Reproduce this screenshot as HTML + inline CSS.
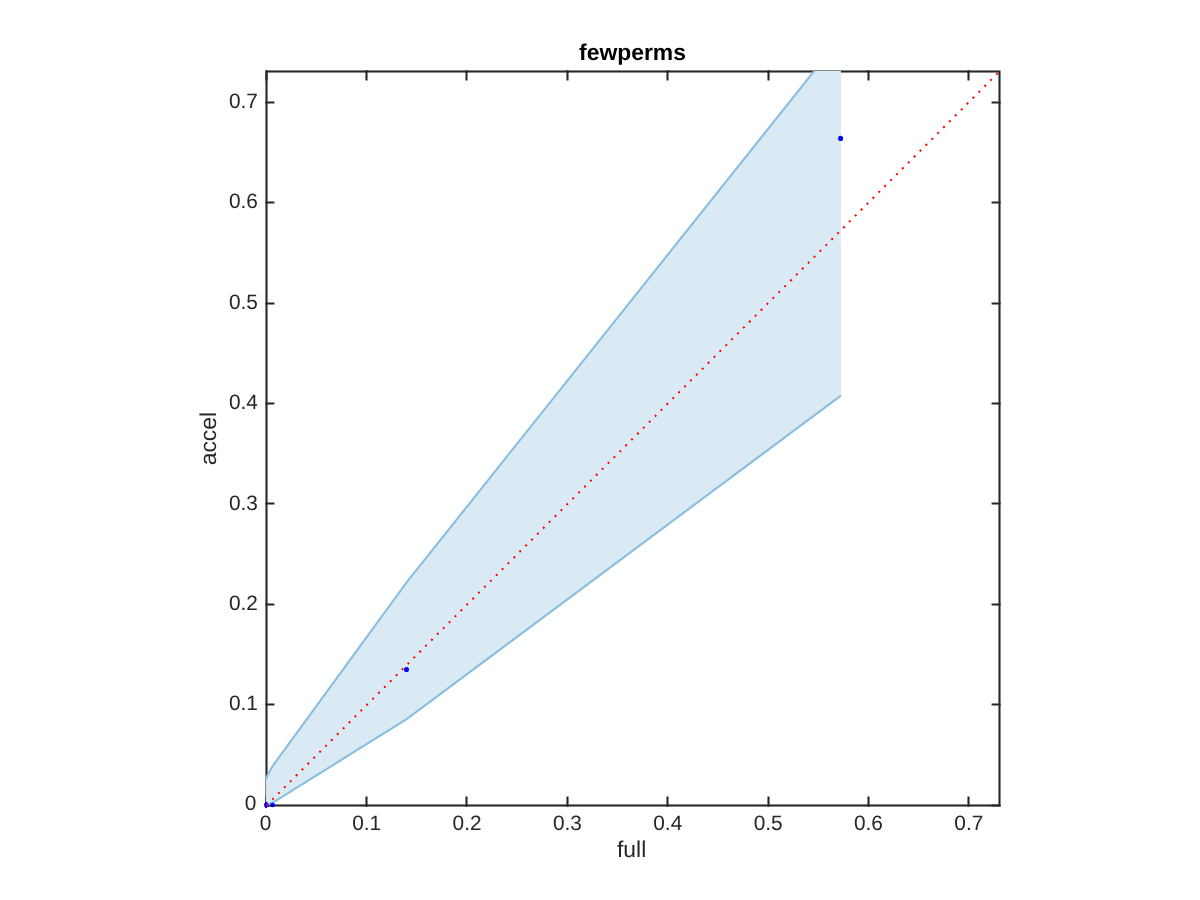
<!DOCTYPE html>
<html lang="en"><head><meta charset="utf-8"><title>fewperms</title>
<style>html,body{margin:0;padding:0;background:#fff;}body{width:1200px;height:900px;overflow:hidden;}svg{display:block;}text{font-family:"Liberation Sans",sans-serif;text-rendering:geometricPrecision;}</style></head><body>
<svg width="1200" height="900" viewBox="0 0 1200 900">
<rect width="1200" height="900" fill="#ffffff"/>
<defs><clipPath id="ax"><rect x="266.05" y="71.10" width="733.45" height="734.40"/></clipPath>
<clipPath id="axl"><rect x="265.05" y="71.10" width="734.45" height="735.00"/></clipPath></defs>
<g stroke="#262626" stroke-width="2.08" fill="none" stroke-linecap="butt">
<rect x="266.5" y="71.5" width="733.00" height="734.00"/>
<path d="M266.50 806.65V796.55M266.50 70.35V80.45M265.35 805.50H274.40M1000.65 805.50H991.60"/>
<path d="M366.50 806.65V796.55M366.50 70.35V80.45M265.35 704.50H274.40M1000.65 704.50H991.60"/>
<path d="M466.50 806.65V796.55M466.50 70.35V80.45M265.35 604.50H274.40M1000.65 604.50H991.60"/>
<path d="M567.50 806.65V796.55M567.50 70.35V80.45M265.35 503.50H274.40M1000.65 503.50H991.60"/>
<path d="M667.50 806.65V796.55M667.50 70.35V80.45M265.35 403.50H274.40M1000.65 403.50H991.60"/>
<path d="M768.50 806.65V796.55M768.50 70.35V80.45M265.35 303.50H274.40M1000.65 303.50H991.60"/>
<path d="M868.50 806.65V796.55M868.50 70.35V80.45M265.35 202.50H274.40M1000.65 202.50H991.60"/>
<path d="M968.50 806.65V796.55M968.50 70.35V80.45M265.35 102.50H274.40M1000.65 102.50H991.60"/>
</g>
<g clip-path="url(#ax)">
<polygon fill="#daeaf5" points="265.0,779.2 266.5,778.9 266.5,777.0 272.8,765.8 406.6,582.4 840.9,37.5 840.9,395.6 406.6,719.1 272.5,802.8 266.3,805.3 265.0,805.4"/>
</g><g clip-path="url(#axl)" fill="none" stroke="#89bee1" stroke-width="2.1" stroke-linejoin="miter">
<polyline points="266.5,778.9 266.5,777.0 272.8,765.8 406.6,582.4 840.9,37.5"/>
<polyline points="265.0,805.4 266.3,805.3 272.5,802.8 406.6,719.1 840.9,395.6"/>
</g>
<rect x="265.4" y="776.0" width="2.5" height="2.7" fill="#89bee1"/>
<rect x="265.05" y="801.9" width="2.0" height="6.2" fill="#0000ff"/>
<circle cx="266.3" cy="804.95" r="2.35" fill="#0000ff"/>
<circle cx="272.6" cy="805.0" r="2.35" fill="#0000ff"/>
<circle cx="406.5" cy="669.5" r="2.55" fill="#0000ff"/>
<circle cx="840.6" cy="138.4" r="2.55" fill="#0000ff"/>
<line x1="266.4" y1="805.45" x2="999.5" y2="71.45" stroke="#ff0000" stroke-width="2" stroke-dasharray="2 6.329"/>
<g fill="#262626" font-size="20.83px">
<text x="265.49" y="830.2" text-anchor="middle">0</text>
<text x="366.68" y="830.2" text-anchor="middle">0.1</text>
<text x="467.04" y="830.2" text-anchor="middle">0.2</text>
<text x="567.40" y="830.2" text-anchor="middle">0.3</text>
<text x="667.76" y="830.2" text-anchor="middle">0.4</text>
<text x="768.12" y="830.2" text-anchor="middle">0.5</text>
<text x="868.48" y="830.2" text-anchor="middle">0.6</text>
<text x="968.84" y="830.2" text-anchor="middle">0.7</text>
<text x="256.45" y="809.95" text-anchor="end">0</text>
<text x="257.85" y="710.29" text-anchor="end">0.1</text>
<text x="257.85" y="609.93" text-anchor="end">0.2</text>
<text x="257.85" y="509.57" text-anchor="end">0.3</text>
<text x="257.85" y="409.21" text-anchor="end">0.4</text>
<text x="257.85" y="308.85" text-anchor="end">0.5</text>
<text x="257.85" y="208.49" text-anchor="end">0.6</text>
<text x="257.85" y="108.13" text-anchor="end">0.7</text>
</g>
<text x="631.6" y="856.8" font-size="22.9px" fill="#262626" text-anchor="middle">full</text>
<text transform="translate(216.2 438.6) rotate(-90)" font-size="22.9px" fill="#262626" text-anchor="middle">accel</text>
<text x="632.5" y="60" font-size="22.9px" font-weight="bold" fill="#000000" text-anchor="middle">fewperms</text>
</svg></body></html>
